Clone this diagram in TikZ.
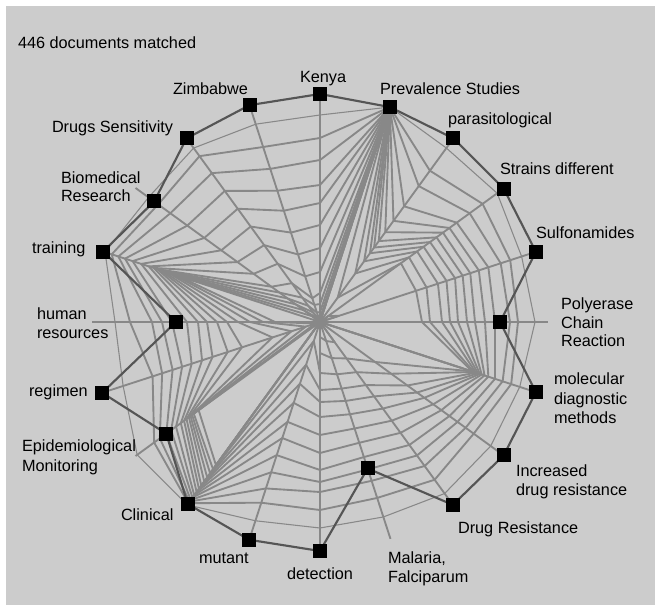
\documentclass[tikz,border=0pt]{standalone}
\usepackage{fontspec}
\setmainfont{Liberation Sans}
\definecolor{bggray}{HTML}{CCCCCC}
\definecolor{webgray}{HTML}{888888}
\definecolor{polygray}{HTML}{555555}
\begin{document}
\begin{tikzpicture}[x=0.75pt,y=0.75pt,
  webline/.style={draw=webgray, line width=1.4pt, line join=round, line cap=round},
  outerline/.style={draw=webgray, line width=0.8pt, line join=round},
  spoke/.style={draw=webgray, line width=1.4pt},
  datapoly/.style={draw=polygray, line width=1.6pt, line join=round},
  marker/.style={fill=black, minimum size=10.5pt, inner sep=0pt, outer sep=0pt},
  lab/.style={inner sep=0pt, outer sep=0pt, anchor=base west, font=\fontsize{12.2}{14}\selectfont, text=black}]
\useasboundingbox (0,0) rectangle (655,606);
\fill[white] (0,0) rectangle (655,606);
\fill[bggray] (6,1) rectangle (655,600);
\begin{scope}[shift={(320,284)}]
\coordinate (ctr) at (0,0);
\foreach \lst [count=\i from 0] in {
 {0,0,4,10,18,29,50,74,97,119,137,162,184,207},
 {226,226,226,226,226,226,226,226,226,226,226,226,226,226},
 {0,0,30,60,75,85,92,100,111,125,143,168,187,215},
 {0,10,100,110,120,128,136,144,152,160,169,185,201,219},
 {0,20,101,112,124,133,142,150,158,167,177,190,200,212},
 {0,0,102,110,122,130,138,147,155,165,175,190,198,215},
 {150,158,160,162,164,166,168,170,173,177,184,192,201,210},
 {0,0,68,88,108,120,129,140,150,160,170,180,190,211},
 {0,25,45,62,78,92,107,122,137,152,165,178,195,212},
 {0,20,38,55,70,83,97,112,127,142,155,167,185,205},
 {0,15,31,51,68,80,95,113,131,148,160,170,188,206},
 {0,0,0,20,45,65,85,105,122,140,158,175,190,209},
 {177,182,187,192,197,202,206,210,214,217,220,222,224,226},
 {150,156,158,160,162,165,168,172,178,184,190,198,205,226},
 {5,15,30,50,82,97,113,124,135,145,155,166,176,207},
 {45,57,70,82,93,103,113,122,133,148,158,168,190,205},
 {150,156,160,165,168,171,175,180,188,197,205,212,219,226},
 {10,20,30,40,50,60,82,102,122,143,164,185,200,212},
 {0,5,12,20,30,48,72,95,118,140,162,184,205,215},
 {0,0,4,10,18,25,48,71,94,117,138,161,184,208}}{
  \foreach \r [count=\k] in \lst {\coordinate (p\k-\i) at ({90-18*\i}:\r);}
}
% web rings
\foreach \k in {1,...,13}{
  \draw[webline] (p\k-0) \foreach \i in {1,...,19}{ -- (p\k-\i)} -- cycle;
}
\draw[outerline] (p14-0) \foreach \i in {1,...,19}{ -- (p14-\i)} -- cycle;
% spokes
\foreach \i in {0,...,19}{
  \coordinate (e\i) at ({90-18*\i}:228);
  \draw[spoke] (ctr) -- (e\i);
}
% data polygon and markers
\foreach \r [count=\i from 0] in {228,226,227,227,227,180,227,227,226,154,229,229,225,190,229,144,228,205,227,228}{
  \coordinate (d\i) at ({90-18*\i}:\r);
}
\draw[datapoly] (d0) \foreach \i in {1,...,19}{ -- (d\i)} -- cycle;
\foreach \i in {0,...,19}{ \node[marker] (m\i) at (d\i) {}; }
\end{scope}
% labels
\node[lab] (count) at (18,557) {446 documents matched};
\node[lab] (l0) at (300,523.3) {Kenya};
\node[lab] (l1) at (380,511.6) {Prevalence Studies};
\node[lab] (l2) at (448,481) {parasitological};
\node[lab] (l3) at (500,431) {Strains different};
\node[lab] (l4) at (536,367.6) {Sulfonamides};
\node[lab] (l5a) at (561,296) {Polyerase};
\node[lab] (l5b) at (561,277.6) {Chain};
\node[lab] (l5c) at (561,259.3) {Reaction};
\node[lab] (l6a) at (554,221) {molecular};
\node[lab] (l6b) at (554,201) {diagnostic};
\node[lab] (l6c) at (554,182.6) {methods};
\node[lab] (l7a) at (516,129.3) {Increased};
\node[lab] (l7b) at (516,111) {drug resistance};
\node[lab] (l8) at (458,72.6) {Drug Resistance};
\node[lab] (l9a) at (388,42.6) {Malaria,};
\node[lab] (l9b) at (388,24) {Falciparum};
\node[lab] (l10) at (287,27) {detection};
\node[lab] (l11) at (199,43) {mutant};
\node[lab] (l12) at (121,86) {Clinical};
\node[lab] (l13a) at (22,154.3) {Epidemiological};
\node[lab] (l13b) at (22,134.3) {Monitoring};
\node[lab] (l14) at (29,209) {regimen};
\node[lab] (l15a) at (37,286) {human};
\node[lab] (l15b) at (37,267) {resources};
\node[lab] (l16) at (32,352) {training};
\node[lab] (l17a) at (61,422) {Biomedical};
\node[lab] (l17b) at (61,404) {Research};
\node[lab] (l18) at (52,473) {Drugs Sensitivity};
\node[lab] (l19) at (173,511) {Zimbabwe};
\end{tikzpicture}
\end{document}
